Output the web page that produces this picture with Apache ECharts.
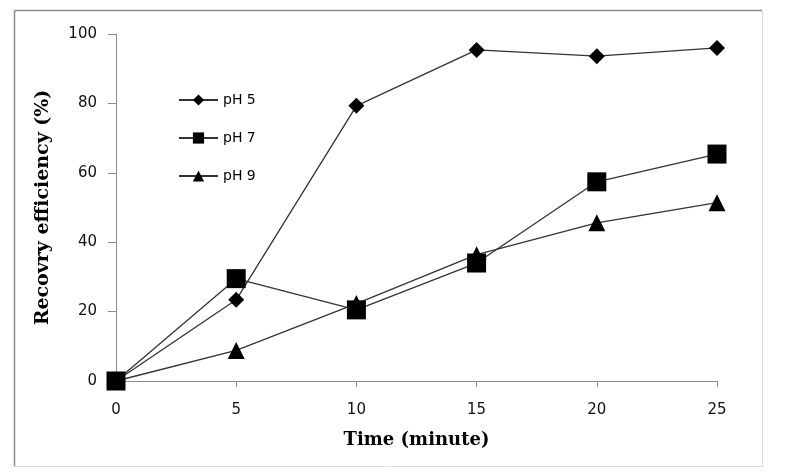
<!DOCTYPE html>
<html><head><meta charset="utf-8">
<script src="https://cdn.jsdelivr.net/npm/echarts@6/dist/echarts.min.js"></script>
<style>html,body{margin:0;padding:0;background:#fff}#c{width:787px;height:476px}</style>
</head><body><div id="c"></div>
<script>
const times = [0, 5, 10, 15, 20, 25];
const pH5 = [0, 23.4, 79.3, 95.4, 93.6, 96.0];
const pH7 = [0, 29.5, 20.5, 34.0, 57.4, 65.4];
const pH9 = [0, 8.8, 22.3, 36.4, 45.6, 51.4];
const seriesNames = ['pH 5', 'pH 7', 'pH 9'];
const xTicks = [0, 5, 10, 15, 20, 25];
const yTicks = [0, 20, 40, 60, 80, 100];

const chart = echarts.init(document.getElementById('c'));
const pair = arr => times.map((t, i) => [t, arr[i]]);
const lineStyle = {color: '#333', width: 1.3};
const mk = (name, data, symbol, size) => ({
  name, type: 'line', data: pair(data), symbol, symbolSize: size,
  lineStyle, itemStyle: {color: '#000'}, z: 3, animation: false
});
const ln = (x1, y1, x2, y2, c, w) => ({type: 'line', shape: {x1, y1, x2, y2},
  style: {stroke: c, lineWidth: w}, silent: true});
chart.setOption({
  animation: false,
  graphic: [
    ln(14.5, 10.5, 762, 10.5, '#8a8a8a', 1.5),
    ln(14.5, 10.5, 14.5, 466.5, '#8a8a8a', 1.5),
    ln(762.5, 10.5, 762.5, 466.5, '#dcdcdc', 1),
    ln(14.5, 466.5, 762.5, 466.5, '#dcdcdc', 1)
  ],
  grid: {left: 116, right: 70, top: 34, bottom: 95},
  legend: {
    orient: 'vertical', left: 173, top: 88, itemGap: 24, itemWidth: 39, itemHeight: 14,
    textStyle: {fontFamily: 'DejaVu Sans', fontSize: 14, color: '#000'},
    data: seriesNames
  },
  xAxis: {
    type: 'value', min: xTicks[0], max: xTicks[xTicks.length - 1], interval: 5,
    name: 'Time (minute)', nameLocation: 'middle', nameGap: 50,
    nameTextStyle: {fontFamily: 'DejaVu Serif', fontWeight: 'bold', fontSize: 18, color: '#000'},
    axisLine: {lineStyle: {color: '#8c8c8c', width: 1}},
    axisTick: {inside: false, length: 6, lineStyle: {color: '#8c8c8c'}},
    axisLabel: {fontFamily: 'DejaVu Sans', fontSize: 15, color: '#111', margin: 22},
    splitLine: {show: false}
  },
  yAxis: {
    type: 'value', min: yTicks[0], max: yTicks[yTicks.length - 1], interval: 20,
    name: 'Recovry efficiency (%)', nameLocation: 'middle', nameGap: 63,
    nameTextStyle: {fontFamily: 'DejaVu Serif', fontWeight: 'bold', fontSize: 19, color: '#000'},
    axisLine: {show: true, lineStyle: {color: '#8c8c8c', width: 1}},
    axisTick: {show: true, inside: false, length: 8, lineStyle: {color: '#8c8c8c'}},
    axisLabel: {fontFamily: 'DejaVu Sans', fontSize: 15, color: '#111', margin: 19},
    splitLine: {show: false}
  },
  series: [
    mk(seriesNames[0], pH5, 'diamond', 16),
    mk(seriesNames[1], pH7, 'rect', 19),
    mk(seriesNames[2], pH9, 'triangle', 17)
  ]
});
</script></body></html>
